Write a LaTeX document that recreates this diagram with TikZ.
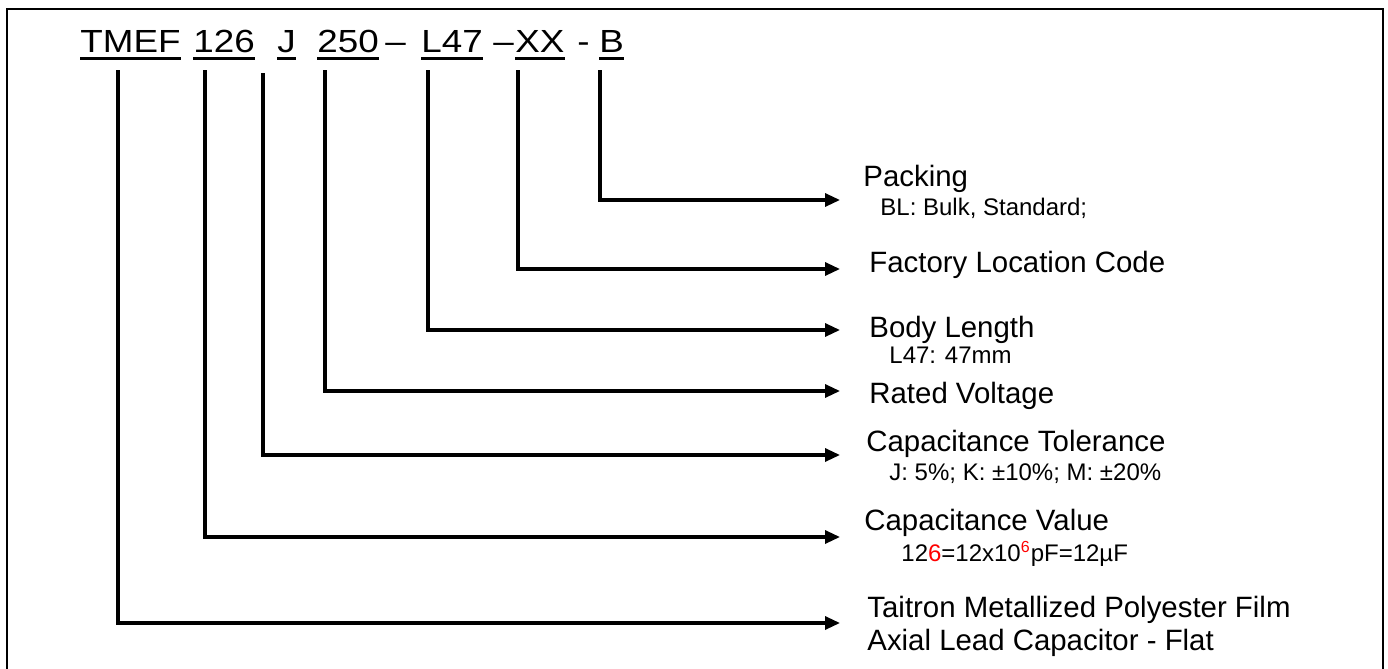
\documentclass[tikz,border=0pt]{standalone}
\usepackage{fontspec}
\setmainfont{Liberation Sans}
\newfontfamily\codefont[FakeStretch=1.15]{Liberation Sans}
\usetikzlibrary{arrows.meta}
\tikzset{
  code/.style={anchor=base west, inner sep=0pt, font=\codefont\fontsize{16}{20}\selectfont},
  underbar/.style={line width=1.5pt},
  leader/.style={line width=1.6pt, -{Triangle[length=7.5pt,width=6.5pt]}},
  title/.style={anchor=base west, inner sep=0pt, font=\fontsize{14.7}{17}\selectfont},
  detail/.style={anchor=base west, inner sep=0pt, font=\fontsize{12}{14}\selectfont},
  frame/.style={line width=1pt}
}
\newcommand{\pncode}[3] {\node at (#1) (#2) [code] {#3}; \draw [underbar] ([yshift=-3pt]#2.base west) -- ([yshift=-3pt]#2.base east);}
\newcommand{\pndash}[2] {\node at (#1) (#2) [code] {\textendash};}
\newcommand{\pntitle}[3] {\node at (#1) (#2) [title] {#3};}
\newcommand{\pndetail}[3] {\node at (#1) (#2) [detail] {#3};}
\newcommand{\pnleader}[4] {\coordinate (#1top) at (#2,#4); \coordinate (#1bend) at (#2,#3); \coordinate (#1end) at (840,#3);
  \draw [leader] (#1top) -- (#1bend) -- (#1end);}

\begin{document}
\begin{tikzpicture}[x=0.5pt, y=-0.5pt]
\useasboundingbox (0,0) rectangle (1388,669);
\draw [frame] (7,669) -- (7,9) -- (1383,9) -- (1383,669);

% part number
\pncode {80,52} {tmef} {TMEF};
\pncode {193,52} {cap} {126};
\pncode {277,52} {tol} {J};
\pncode {317,52} {volt} {250};
\pndash {385,52} {dasha};
\pncode {421,52} {len} {L47};
\pndash {493,52} {dashb};
\pncode {515,52} {fac} {XX};
\node at (577,52) (dashc) [code] {-};
\pncode {599,52} {pack} {B};

% leaders
\pnleader {pack} {600} {200} {70};
\pnleader {fac} {518} {269} {70};
\pnleader {len} {428} {330} {70};
\pnleader {volt} {325} {391} {70};
\pnleader {tol} {263} {455} {73};
\pnleader {cap} {205} {537} {70};
\pnleader {tmef} {118} {623} {70};

% fields
\pntitle {863,186} {packing} {Packing};
\pndetail {880,215} {packingtxt} {BL: Bulk, Standard;};
\pntitle {869,272} {factory} {Factory Location Code};
\pntitle {869,337} {body} {Body Length};
\pndetail {889,363} {bodytxt} {L47: 47mm};
\pntitle {869,403} {rated} {Rated Voltage};
\pntitle {866,451} {tolerance} {Capacitance Tolerance};
\pndetail {889,480} {tolerancetxt} {J: 5\%; K: ±10\%; M: ±20\%};
\pntitle {864,530} {value} {Capacitance Value};
\pndetail {901,561} {valuetxt} {12{\color{red}6}=12x10\textsuperscript{\color{red}6}pF=12µF};
\pntitle {867,617} {series} {Taitron Metallized Polyester Film};
\pntitle {867,650} {seriesb} {Axial Lead Capacitor - Flat};
\end{tikzpicture}
\end{document}
